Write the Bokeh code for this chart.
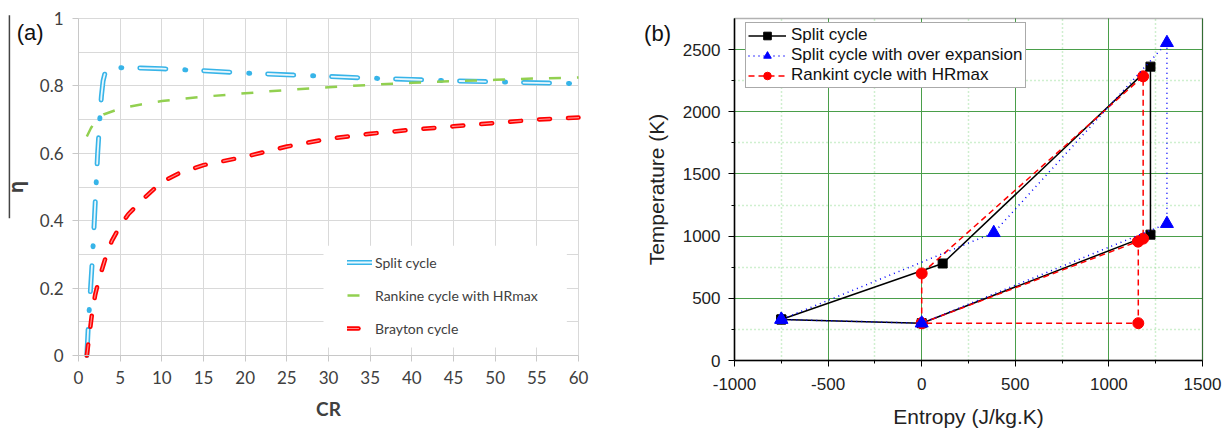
from bokeh.plotting import figure
from bokeh.layouts import row
from bokeh.models import (Range1d, FixedTicker, Legend, LegendItem, Label,
                          BoxAnnotation)
from bokeh.embed import file_html
from bokeh.resources import INLINE

# ---------------- Panel (a) data ----------------
cr_split = [1.0, 1.2, 1.45, 1.7, 1.9, 2.1, 2.3, 2.55, 2.75, 2.95, 3.2, 3.6,
            4.5, 5, 7.5, 10, 15, 20, 25, 30, 35, 40, 45, 50, 55, 60]
eta_split = [0.0, 0.1, 0.2, 0.3, 0.4, 0.5, 0.6, 0.7, 0.77, 0.815, 0.84, 0.85,
             0.853, 0.854, 0.853, 0.851, 0.845, 0.838, 0.833, 0.828, 0.823,
             0.819, 0.815, 0.812, 0.809, 0.807]

cr_rankine = [1, 1.5, 2, 3, 5, 7.5, 10, 15, 20, 25, 30, 35, 40, 45, 50, 55, 60]
eta_rankine = [0.65, 0.675, 0.695, 0.715, 0.733, 0.745, 0.755, 0.768, 0.778,
               0.788, 0.796, 0.803, 0.809, 0.814, 0.818, 0.822, 0.825]

cr_brayton = [1, 1.3, 1.6, 2, 2.5, 3, 3.5, 4, 5, 6, 7, 8, 10, 12, 15, 20, 25,
              30, 35, 40, 45, 50, 55, 60]
eta_brayton = [0.0, 0.06, 0.12, 0.18, 0.23, 0.27, 0.31, 0.34, 0.385, 0.42,
               0.445, 0.47, 0.515, 0.54, 0.565, 0.59, 0.62, 0.643, 0.658,
               0.67, 0.68, 0.69, 0.70, 0.706]

x_ticks_a = [0, 5, 10, 15, 20, 25, 30, 35, 40, 45, 50, 55, 60]
y_ticks_a = [0, 0.2, 0.4, 0.6, 0.8, 1.0]
y_minor_a = [0.1, 0.3, 0.5, 0.7, 0.9]
labels_a = ["Split cycle", "Rankine cycle with HRmax", "Brayton cycle"]

# ---------------- Panel (b) data ----------------
split_s = [-750, 0, 1222, 1222, 112, -750]
split_T = [330, 300, 1012, 2363, 780, 330]

over_s = [-750, 0, 1310, 1310, 385, -750]
over_T = [330, 300, 1100, 2555, 1027, 330]

rank_s = [0, 1155, 1183, 1183, 0, 0, 1157, 1157]
rank_T = [300, 957, 980, 2285, 700, 300, 300, 957]

x_ticks_b = [-1000, -500, 0, 500, 1000, 1500]
x_minor_b = [-750, -250, 250, 750, 1250]
y_ticks_b = [0, 500, 1000, 1500, 2000, 2500]
y_minor_b = [250, 750, 1250, 1750, 2250]
labels_b = ["Split cycle", "Split cycle with over expansion",
            "Rankint cycle with HRmax"]


def span_range(lo, hi, px_lo, px_hi, pad_lo, pad_hi):
    """Range that maps [lo, hi] onto a px_hi-px_lo pixel wide plot area,
    leaving pad_lo / pad_hi pixels of margin inside the canvas."""
    per_px = (hi - lo) / float(px_hi - px_lo)
    return Range1d(lo - pad_lo * per_px, hi + pad_hi * per_px)


# ================= Panel (a) =================
FA = "Lato"
W1, H1 = 610, 431
p1 = figure(width=W1, height=H1,
            x_range=span_range(0, 60, 0, 500, 78, 32),
            y_range=span_range(0, 1, 0, 337, 76, 18),
            output_backend="svg", toolbar_location=None,
            min_border_left=0, min_border_right=0, min_border_top=0,
            min_border_bottom=0)
p1.outline_line_color = None
p1.xaxis.fixed_location = 0
p1.yaxis.fixed_location = 0
p1.xaxis.bounds = (0, 60)
p1.yaxis.bounds = (0, 1)
p1.xaxis.ticker = FixedTicker(ticks=x_ticks_a)
p1.yaxis.ticker = FixedTicker(ticks=y_ticks_a, minor_ticks=y_minor_a)
p1.yaxis.major_label_overrides = {0: "0", 1: "1"}
for g in (p1.xgrid, p1.ygrid):
    g.grid_line_color = "#d9d9d9"
    g.grid_line_width = 1
p1.xgrid.bounds = (0, 60)
p1.ygrid.bounds = (0, 1)
p1.xgrid.cross_bounds = (0, 1)
p1.ygrid.cross_bounds = (0, 60)
p1.ygrid.minor_grid_line_color = "#d9d9d9"
p1.axis.axis_line_color = "#c8c8c8"
p1.axis.major_tick_line_color = "#c8c8c8"
p1.axis.major_tick_out = 6
p1.axis.major_tick_in = 0
p1.axis.minor_tick_out = 0
p1.axis.minor_tick_in = 0
p1.axis.major_label_text_font = FA
p1.axis.major_label_text_font_size = "17px"
p1.axis.major_label_text_color = "#404040"
p1.xaxis.major_label_standoff = 9
p1.yaxis.major_label_standoff = 9
p1.xaxis.axis_label = "CR"
p1.yaxis.axis_label = "η"
p1.axis.axis_label_text_font_style = "bold"
p1.xaxis.axis_label_text_font = FA
p1.yaxis.axis_label_text_font = "Open Sans"
p1.axis.axis_label_text_font_size = "19px"
p1.axis.axis_label_text_color = "#404040"
p1.xaxis.axis_label_standoff = 10
p1.yaxis.axis_label_standoff = 8

sp_out = p1.line(cr_split, eta_split, line_color="#37b4e8", line_width=5,
                 line_dash="26 19 1 18", line_cap="round", line_join="round")
sp_in = p1.line(cr_split, eta_split, line_color="#e8f7fd", line_width=1.8,
                line_dash="26 38", line_cap="round", line_join="round")
rk = p1.line(cr_rankine, eta_rankine, line_color="#92d050", line_width=2.5,
             line_dash="12 16")
br_out = p1.line(cr_brayton, eta_brayton, line_color="#ff0000", line_width=4.5,
                 line_dash="11 18", line_cap="round", line_join="round")
br_in = p1.line(cr_brayton, eta_brayton, line_color="#ff8c8c", line_width=1.2,
                line_dash="11 18", line_cap="round", line_join="round")

p1.add_layout(BoxAnnotation(left=29.4, right=58.6, bottom=0.024, top=0.326,
                            fill_color="white", fill_alpha=1, line_color=None))
leg1 = Legend(items=[LegendItem(label=labels_a[0], renderers=[sp_out, sp_in]),
                     LegendItem(label=labels_a[1], renderers=[rk]),
                     LegendItem(label=labels_a[2], renderers=[br_out, br_in])],
              location=(347, 93), background_fill_alpha=0, border_line_color=None,
              label_text_font=FA, label_text_font_size="14px",
              label_text_color="#404040", glyph_width=25, glyph_height=20,
              label_height=20, spacing=13, padding=10, label_standoff=3)
p1.add_layout(leg1)
p1.add_layout(Label(x=-5.8, y=0.958, text="(a)", text_align="center",
                    text_font="Liberation Sans", text_font_size="22px",
                    text_baseline="middle", text_color="#111111"))
p1.add_layout(BoxAnnotation(left=-8.38, right=-8.2, bottom=0.407, top=1.01,
                            fill_color="#444444", fill_alpha=1, line_color=None))

# ================= Panel (b) =================
FB = "Liberation Sans"
W2, H2 = 616, 431
p2 = figure(width=W2, height=H2,
            x_range=span_range(-1000, 1500, 0, 468, 124, 24),
            y_range=span_range(0, 2750, 0, 342, 71, 18),
            output_backend="svg", toolbar_location=None,
            min_border_left=0, min_border_right=0, min_border_top=0,
            min_border_bottom=0)
p2.outline_line_color = None
p2.xaxis.fixed_location = 0
p2.yaxis.fixed_location = -1000
p2.xaxis.bounds = (-1000, 1500)
p2.yaxis.bounds = (0, 2750)
p2.xaxis.ticker = FixedTicker(ticks=x_ticks_b, minor_ticks=x_minor_b)
p2.yaxis.ticker = FixedTicker(ticks=y_ticks_b, minor_ticks=y_minor_b)
p2.xaxis.major_label_overrides = {-1000: "-1000", -500: "-500"}
for g in (p2.xgrid, p2.ygrid):
    g.grid_line_color = "#4a9e4a"
    g.grid_line_width = 1
    g.minor_grid_line_color = "#9fe09f"
    g.minor_grid_line_dash = "1 3"
    g.minor_grid_line_width = 1.5
p2.xgrid.bounds = (-1000, 1500)
p2.ygrid.bounds = (0, 2750)
p2.xgrid.cross_bounds = (0, 2750)
p2.ygrid.cross_bounds = (-1000, 1500)
p2.axis.axis_line_color = "black"
p2.axis.axis_line_width = 1.5
p2.axis.major_tick_line_color = "black"
p2.axis.minor_tick_line_color = "black"
p2.axis.major_tick_out = 6
p2.axis.major_tick_in = 0
p2.axis.minor_tick_out = 3
p2.axis.minor_tick_in = 0
p2.axis.major_label_text_font = FB
p2.axis.major_label_text_font_size = "17px"
p2.axis.major_label_text_color = "#222222"
p2.xaxis.major_label_standoff = 11
p2.yaxis.major_label_standoff = 8
p2.xaxis.axis_label = "Entropy (J/kg.K)"
p2.yaxis.axis_label = "Temperature (K)"
p2.axis.axis_label_text_font = FB
p2.axis.axis_label_text_font_style = "normal"
p2.axis.axis_label_text_font_size = "21px"
p2.axis.axis_label_text_color = "#222222"
p2.xaxis.axis_label_standoff = 12
p2.yaxis.axis_label_standoff = 12

# plot-area border (top and right sides of the box)
p2.add_layout(BoxAnnotation(left=-1000, right=1500, bottom=0, top=2750,
                            fill_alpha=0, line_color="black", line_width=1.5,
                            level="underlay"))

lb = p2.line(split_s, split_T, line_color="black", line_width=1.5)
mb = p2.scatter(split_s, split_T, marker="square", size=9, color="black")
lr = p2.line(rank_s, rank_T, line_color="#ff0000", line_width=1.5,
             line_dash="6 4")
mr = p2.scatter(rank_s, rank_T, marker="circle", size=11, color="#ff0000")
lu = p2.line(over_s, over_T, line_color="#0000ff", line_width=1.5,
             line_dash="1 4")
mu = p2.scatter(over_s, over_T, marker="triangle", size=13, color="#0000ff")

leg2 = Legend(items=[LegendItem(label=labels_b[0], renderers=[lb, mb]),
                     LegendItem(label=labels_b[1], renderers=[lu, mu]),
                     LegendItem(label=labels_b[2], renderers=[lr, mr])],
              location=(135, 343), background_fill_color="white",
              background_fill_alpha=1, border_line_color="#555555",
              border_line_width=1.2,
              label_text_font=FB, label_text_font_size="17px",
              label_text_color="#111111", glyph_width=38, glyph_height=19,
              label_height=19, spacing=0, padding=2, label_standoff=5)
p2.add_layout(leg2)
p2.add_layout(Label(x=-1411, y=2630, text="(b)", text_align="center",
                    text_font=FB, text_font_size="22px",
                    text_baseline="middle", text_color="#111111"))

layout = row(p1, p2)
open("out.html", "w").write(file_html(layout, INLINE))
